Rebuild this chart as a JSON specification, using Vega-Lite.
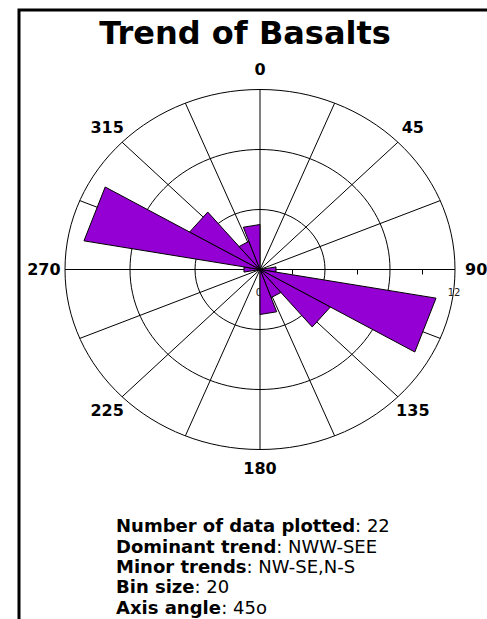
{
  "$schema": "https://vega.github.io/schema/vega-lite/v6.json",
  "width": 480,
  "height": 620,
  "autosize": {"type": "none"},
  "padding": {"left": 19, "top": 10, "right": 0, "bottom": 0},
  "background": "white",
  "config": {"view": {"stroke": "black", "strokeWidth": 3}, "text": {"font": "DejaVu Sans"}},
  "datasets": {
    "rings": [{"r": 4}, {"r": 8}, {"r": 12}],
    "spokes": [{"angle": 0}, {"angle": 22.5}, {"angle": 45}, {"angle": 67.5}, {"angle": 90}, {"angle": 112.5}, {"angle": 135}, {"angle": 157.5}, {"angle": 180}, {"angle": 202.5}, {"angle": 225}, {"angle": 247.5}, {"angle": 270}, {"angle": 292.5}, {"angle": 315}, {"angle": 337.5}],
    "ticks": [{"r": 2}, {"r": 6}, {"r": 10}],
    "scalelabels": [{"v": 0, "label": "0"}, {"v": 12, "label": "12"}],
    "petals": [
      {"a0": 80, "a1": 100, "n": 1},
      {"a0": 100, "a1": 120, "n": 11},
      {"a0": 120, "a1": 140, "n": 5},
      {"a0": 140, "a1": 160, "n": 2},
      {"a0": 160, "a1": 180, "n": 3},
      {"a0": 260, "a1": 280, "n": 1},
      {"a0": 280, "a1": 300, "n": 11},
      {"a0": 300, "a1": 320, "n": 5},
      {"a0": 320, "a1": 340, "n": 2},
      {"a0": 340, "a1": 360, "n": 3}
    ],
    "dirs": [{"angle": 0, "label": "0"}, {"angle": 45, "label": "45"}, {"angle": 90, "label": "90"}, {"angle": 135, "label": "135"}, {"angle": 180, "label": "180"}, {"angle": 225, "label": "225"}, {"angle": 270, "label": "270"}, {"angle": 315, "label": "315"}],
    "stats": [
      {"line": 1, "label": "Number of data plotted", "value": ": 22"},
      {"line": 2, "label": "Dominant trend", "value": ": NWW-SEE"},
      {"line": 3, "label": "Minor trends", "value": ": NW-SE,N-S"},
      {"line": 4, "label": "Bin size", "value": ": 20"},
      {"line": 5, "label": "Axis angle", "value": ": 45o"}
    ]
  },
  "layer": [
    {
      "data": {"name": "rings"},
      "transform": [{"calculate": "0", "as": "o"}],
      "mark": {"type": "point", "shape": "M-1,0A1,0.9231,0,1,1,1,0A1,0.9231,0,1,1,-1,0Z", "filled": false, "stroke": "black", "strokeWidth": 1, "opacity": 1},
      "encoding": {
        "x": {"field": "o", "type": "quantitative", "scale": {"domain": [-12, 12], "range": [46, 436], "nice": false, "zero": false}, "axis": null},
        "y": {"field": "o", "type": "quantitative", "scale": {"domain": [-12, 12], "range": [439.5, 79.5], "nice": false, "zero": false}, "axis": null},
        "size": {"field": "r", "type": "quantitative", "scale": {"type": "pow", "exponent": 2, "domain": [0, 12], "range": [0, 152100]}, "legend": null}
      }
    },
    {
      "data": {"name": "spokes"},
      "transform": [
        {"calculate": "0", "as": "o"},
        {"calculate": "12*sin(datum.angle*PI/180)", "as": "ex"},
        {"calculate": "12*cos(datum.angle*PI/180)", "as": "ey"}
      ],
      "mark": {"type": "rule", "stroke": "black", "strokeWidth": 1},
      "encoding": {
        "x": {"field": "o", "type": "quantitative"},
        "y": {"field": "o", "type": "quantitative"},
        "x2": {"field": "ex"},
        "y2": {"field": "ey"}
      }
    },
    {
      "data": {"name": "ticks"},
      "transform": [{"calculate": "0", "as": "o"}, {"calculate": "-0.33", "as": "t"}],
      "mark": {"type": "rule", "stroke": "black", "strokeWidth": 1},
      "encoding": {
        "x": {"field": "r", "type": "quantitative"},
        "y": {"field": "o", "type": "quantitative"},
        "y2": {"field": "t"}
      }
    },
    {
      "data": {"name": "scalelabels"},
      "transform": [{"calculate": "0", "as": "o"}],
      "mark": {"type": "text", "fontSize": 10, "fill": "#222", "dy": 23, "dx": -1, "baseline": "middle", "align": "center"},
      "encoding": {
        "x": {"field": "v", "type": "quantitative"},
        "y": {"field": "o", "type": "quantitative"},
        "text": {"field": "label"}
      }
    },
    {
      "data": {"name": "petals"},
      "transform": [
        {"calculate": "datum.a0", "as": "c0"},
        {"calculate": "datum.a1", "as": "c1"},
        {"fold": ["c0", "a0", "a1", "c1"], "as": ["k", "ang"]},
        {"calculate": "indexof(['c0','a0','a1','c1'], datum.k)", "as": "ord"},
        {"calculate": "(datum.k == 'a0' || datum.k == 'a1') ? datum.n : 0", "as": "rr"},
        {"calculate": "datum.rr*sin(datum.ang*PI/180)", "as": "px"},
        {"calculate": "datum.rr*cos(datum.ang*PI/180)", "as": "py"}
      ],
      "mark": {"type": "line", "fill": "#9400D3", "stroke": "black", "strokeWidth": 1, "strokeJoin": "miter"},
      "encoding": {
        "x": {"field": "px", "type": "quantitative"},
        "y": {"field": "py", "type": "quantitative"},
        "detail": {"field": "a0", "type": "nominal"},
        "order": {"field": "ord", "type": "quantitative"}
      }
    },
    {
      "data": {"name": "dirs"},
      "transform": [
        {"calculate": "13.3*sin(datum.angle*PI/180)", "as": "lx"},
        {"calculate": "13.3*cos(datum.angle*PI/180)", "as": "ly"}
      ],
      "mark": {"type": "text", "fontSize": 16, "fontWeight": "bold", "fill": "black", "baseline": "middle", "align": "center"},
      "encoding": {
        "x": {"field": "lx", "type": "quantitative"},
        "y": {"field": "ly", "type": "quantitative"},
        "text": {"field": "label"}
      }
    },
    {
      "data": {"values": [{"title": "Trend of Basalts"}]},
      "mark": {"type": "text", "fontSize": 32, "fontWeight": "bold", "fill": "black", "baseline": "alphabetic", "align": "center"},
      "encoding": {"x": {"value": 226}, "y": {"value": 34}, "text": {"field": "title"}}
    },
    {
      "data": {"name": "stats"},
      "transform": [{"filter": "datum.line == 1"}],
      "layer": [
        {"mark": {"type": "text", "fontSize": 18, "fontWeight": "bold", "baseline": "middle", "align": "left"}, "encoding": {"x": {"value": 97}, "y": {"value": 517}, "text": {"field": "label"}}},
        {"mark": {"type": "text", "fontSize": 18, "baseline": "middle", "align": "left"}, "encoding": {"x": {"value": 336.1}, "y": {"value": 517}, "text": {"field": "value"}}}
      ]
    },
    {
      "data": {"name": "stats"},
      "transform": [{"filter": "datum.line == 2"}],
      "layer": [
        {"mark": {"type": "text", "fontSize": 18, "fontWeight": "bold", "baseline": "middle", "align": "left"}, "encoding": {"x": {"value": 97}, "y": {"value": 537.5}, "text": {"field": "label"}}},
        {"mark": {"type": "text", "fontSize": 18, "baseline": "middle", "align": "left"}, "encoding": {"x": {"value": 257.3}, "y": {"value": 537.5}, "text": {"field": "value"}}}
      ]
    },
    {
      "data": {"name": "stats"},
      "transform": [{"filter": "datum.line == 3"}],
      "layer": [
        {"mark": {"type": "text", "fontSize": 18, "fontWeight": "bold", "baseline": "middle", "align": "left"}, "encoding": {"x": {"value": 97}, "y": {"value": 558}, "text": {"field": "label"}}},
        {"mark": {"type": "text", "fontSize": 18, "baseline": "middle", "align": "left"}, "encoding": {"x": {"value": 227.5}, "y": {"value": 558}, "text": {"field": "value"}}}
      ]
    },
    {
      "data": {"name": "stats"},
      "transform": [{"filter": "datum.line == 4"}],
      "layer": [
        {"mark": {"type": "text", "fontSize": 18, "fontWeight": "bold", "baseline": "middle", "align": "left"}, "encoding": {"x": {"value": 97}, "y": {"value": 578}, "text": {"field": "label"}}},
        {"mark": {"type": "text", "fontSize": 18, "baseline": "middle", "align": "left"}, "encoding": {"x": {"value": 175.5}, "y": {"value": 578}, "text": {"field": "value"}}}
      ]
    },
    {
      "data": {"name": "stats"},
      "transform": [{"filter": "datum.line == 5"}],
      "layer": [
        {"mark": {"type": "text", "fontSize": 18, "fontWeight": "bold", "baseline": "middle", "align": "left"}, "encoding": {"x": {"value": 97}, "y": {"value": 598.5}, "text": {"field": "label"}}},
        {"mark": {"type": "text", "fontSize": 18, "baseline": "middle", "align": "left"}, "encoding": {"x": {"value": 202.2}, "y": {"value": 598.5}, "text": {"field": "value"}}}
      ]
    }
  ]
}
